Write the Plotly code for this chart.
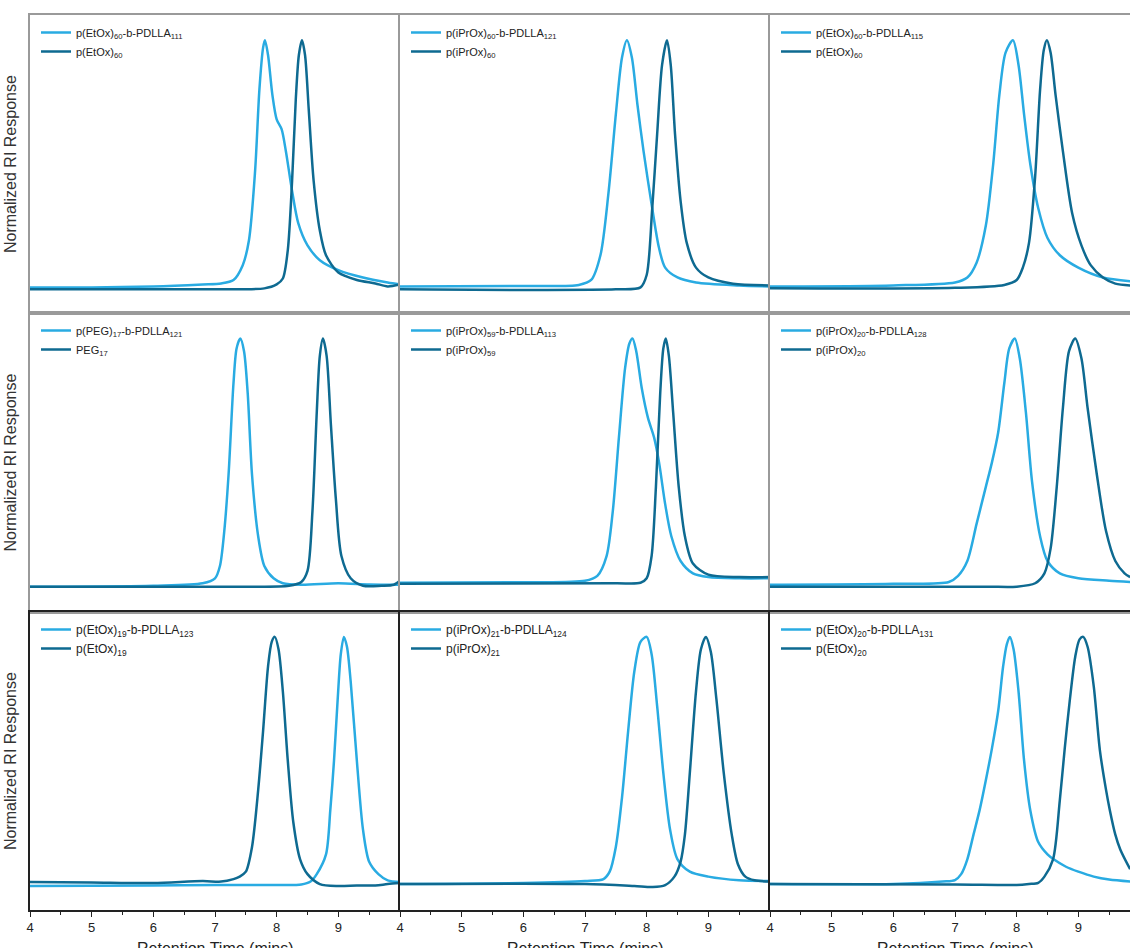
import plotly.graph_objects as go
from plotly.subplots import make_subplots

# ---------------- data (retention time in min, normalized RI response) -------------
# Row 1
x_11a = [4.0, 5.0, 6.0, 6.8, 7.1, 7.3, 7.45, 7.55, 7.65, 7.72, 7.78, 7.81, 7.86, 7.93, 8.0, 8.08, 8.15, 8.25, 8.35, 8.5, 8.7, 9.0, 9.4, 9.8, 10.0]
y_11a = [0.0, 0.0, 0.004, 0.012, 0.016, 0.03, 0.09, 0.19, 0.47, 0.80, 0.97, 1.0, 0.94, 0.78, 0.68, 0.64, 0.55, 0.39, 0.26, 0.17, 0.11, 0.07, 0.04, 0.02, 0.012]
x_11b = [4.0, 7.0, 7.8, 8.0, 8.1, 8.18, 8.25, 8.31, 8.36, 8.41, 8.46, 8.52, 8.6, 8.7, 8.8, 9.0, 9.3, 9.6, 9.8, 10.0]
y_11b = [-0.008, -0.008, -0.004, 0.012, 0.036, 0.15, 0.43, 0.76, 0.94, 1.0, 0.94, 0.72, 0.43, 0.23, 0.13, 0.06, 0.03, 0.016, 0.004, 0.012]

x_12a = [4.0, 6.0, 6.9, 7.1, 7.25, 7.38, 7.5, 7.6, 7.68, 7.76, 7.85, 7.95, 8.09, 8.2, 8.3, 8.5, 8.8, 9.5, 10.0]
y_12a = [0.004, 0.006, 0.01, 0.03, 0.13, 0.38, 0.7, 0.93, 1.0, 0.93, 0.74, 0.55, 0.32, 0.16, 0.08, 0.04, 0.02, 0.008, 0.004]
x_12b = [4.0, 7.5, 7.9, 8.0, 8.09, 8.17, 8.25, 8.33, 8.39, 8.46, 8.55, 8.65, 8.8, 9.0, 9.4, 10.0]
y_12b = [-0.008, -0.008, 0.0, 0.05, 0.32, 0.62, 0.9, 1.0, 0.9, 0.62, 0.35, 0.18, 0.08, 0.04, 0.015, 0.008]

x_13a = [4.0, 6.0, 7.0, 7.2, 7.35, 7.5, 7.62, 7.72, 7.82, 7.94, 8.03, 8.12, 8.22, 8.35, 8.5, 8.7, 9.0, 9.4, 9.84]
y_13a = [0.004, 0.008, 0.02, 0.04, 0.1, 0.25, 0.5, 0.78, 0.95, 1.0, 0.9, 0.7, 0.5, 0.32, 0.2, 0.13, 0.08, 0.04, 0.025]
x_13b = [4.0, 7.0, 7.8, 8.0, 8.1, 8.2, 8.3, 8.38, 8.44, 8.49, 8.55, 8.63, 8.75, 8.9, 9.05, 9.2, 9.4, 9.6, 9.84]
y_13b = [-0.004, -0.002, 0.01, 0.03, 0.08, 0.18, 0.45, 0.8, 0.96, 1.0, 0.95, 0.78, 0.55, 0.3, 0.17, 0.09, 0.04, 0.015, 0.008]

# Row 2
x_21a = [4.0, 6.0, 6.8, 7.0, 7.08, 7.15, 7.22, 7.3, 7.35, 7.41, 7.47, 7.53, 7.6, 7.7, 7.8, 7.95, 8.1, 8.4, 9.0, 9.5, 10.0]
y_21a = [-0.004, 0.0, 0.01, 0.03, 0.08, 0.22, 0.45, 0.82, 0.96, 1.0, 0.95, 0.78, 0.45, 0.2, 0.08, 0.03, 0.01, 0.004, 0.01, 0.005, 0.004]
x_21b = [4.0, 7.5, 8.2, 8.4, 8.5, 8.58, 8.65, 8.7, 8.75, 8.81, 8.88, 8.96, 9.05, 9.2, 9.4, 9.7, 9.9, 10.0]
y_21b = [-0.004, -0.004, 0.0, 0.015, 0.06, 0.3, 0.7, 0.93, 1.0, 0.93, 0.65, 0.35, 0.12, 0.03, 0.0, 0.0, 0.004, 0.02]

x_22a = [4.0, 6.0, 7.0, 7.2, 7.35, 7.45, 7.55, 7.65, 7.72, 7.77, 7.83, 7.92, 8.02, 8.12, 8.2, 8.3, 8.4, 8.55, 8.75, 9.0, 9.5, 10.0]
y_22a = [0.012, 0.014, 0.02, 0.04, 0.12, 0.3, 0.6, 0.88, 0.98, 1.0, 0.95, 0.8, 0.68, 0.6, 0.5, 0.33, 0.2, 0.1, 0.05, 0.035, 0.03, 0.03]
x_22b = [4.0, 7.5, 7.9, 8.0, 8.08, 8.15, 8.22, 8.27, 8.31, 8.36, 8.43, 8.52, 8.62, 8.75, 9.0, 9.5, 10.0]
y_22b = [0.008, 0.01, 0.012, 0.03, 0.12, 0.4, 0.78, 0.96, 1.0, 0.93, 0.7, 0.4, 0.2, 0.09, 0.045, 0.035, 0.035]

x_23a = [4.0, 6.0, 6.9, 7.05, 7.2, 7.35, 7.5, 7.6, 7.7, 7.8, 7.88, 7.97, 8.05, 8.15, 8.25, 8.38, 8.5, 8.7, 9.0, 9.5, 9.84]
y_23a = [0.004, 0.008, 0.015, 0.04, 0.1, 0.25, 0.4, 0.5, 0.62, 0.82, 0.96, 1.0, 0.92, 0.7, 0.42, 0.2, 0.1, 0.05, 0.03, 0.02, 0.015]
x_23b = [4.0, 7.5, 8.0, 8.3, 8.45, 8.55, 8.65, 8.75, 8.85, 8.95, 9.05, 9.15, 9.3, 9.45, 9.6, 9.75, 9.84]
y_23b = [-0.004, -0.004, -0.004, 0.01, 0.05, 0.15, 0.4, 0.72, 0.95, 1.0, 0.92, 0.72, 0.45, 0.22, 0.1, 0.05, 0.035]

# Row 3
x_31a = [4.0, 6.0, 7.0, 8.0, 8.4, 8.55, 8.65, 8.8, 8.87, 8.93, 8.99, 9.04, 9.09, 9.14, 9.2, 9.3, 9.4, 9.5, 9.65, 9.8, 10.0]
y_31a = [-0.008, -0.006, -0.004, -0.004, -0.002, 0.01, 0.04, 0.12, 0.3, 0.5, 0.75, 0.93, 1.0, 0.96, 0.82, 0.5, 0.22, 0.09, 0.04, 0.015, 0.008]
x_31b = [4.0, 5.0, 6.0, 6.8, 7.1, 7.3, 7.4, 7.5, 7.6, 7.7, 7.78, 7.86, 7.92, 7.97, 8.03, 8.1, 8.18, 8.27, 8.38, 8.5, 8.7, 9.0, 9.3, 9.6, 9.8, 10.0]
y_31b = [0.008, 0.006, 0.004, 0.012, 0.01, 0.02, 0.03, 0.05, 0.15, 0.38, 0.62, 0.88, 0.98, 1.0, 0.95, 0.78, 0.5, 0.25, 0.1, 0.04, 0.0, -0.008, -0.006, -0.006, 0.0, 0.004]

x_32a = [4.0, 6.0, 7.0, 7.3, 7.4, 7.5, 7.6, 7.7, 7.8, 7.9, 8.0, 8.08, 8.17, 8.27, 8.38, 8.5, 8.7, 9.0, 9.5, 10.0]
y_32a = [0.0, 0.004, 0.012, 0.02, 0.05, 0.15, 0.35, 0.62, 0.86, 0.98, 1.0, 0.93, 0.72, 0.45, 0.22, 0.1, 0.05, 0.03, 0.015, 0.012]
x_32b = [4.0, 7.0, 7.8, 8.1, 8.3, 8.45, 8.55, 8.62, 8.7, 8.8, 8.88, 8.96, 9.04, 9.13, 9.25, 9.38, 9.48, 9.6, 9.75, 10.0]
y_32b = [0.0, 0.0, -0.008, -0.012, -0.004, 0.03, 0.09, 0.2, 0.45, 0.78, 0.95, 1.0, 0.94, 0.75, 0.45, 0.2, 0.08, 0.03, 0.015, 0.01]

x_33a = [4.0, 6.0, 6.8, 7.0, 7.1, 7.2, 7.3, 7.4, 7.5, 7.6, 7.7, 7.78, 7.84, 7.89, 7.95, 8.03, 8.12, 8.22, 8.35, 8.5, 8.6, 8.8, 9.0, 9.25, 9.5, 9.84]
y_33a = [0.0, 0.0, 0.01, 0.016, 0.04, 0.1, 0.2, 0.3, 0.42, 0.55, 0.7, 0.88, 0.97, 1.0, 0.95, 0.78, 0.5, 0.3, 0.17, 0.12, 0.1, 0.07, 0.05, 0.03, 0.018, 0.01]
x_33b = [4.0, 7.0, 8.0, 8.2, 8.35, 8.45, 8.59, 8.7, 8.78, 8.86, 8.95, 9.02, 9.08, 9.15, 9.25, 9.35, 9.45, 9.51, 9.6, 9.68, 9.84]
y_33b = [0.0, -0.002, -0.004, 0.0, 0.005, 0.03, 0.1, 0.34, 0.55, 0.74, 0.92, 0.99, 1.0, 0.96, 0.8, 0.54, 0.38, 0.3, 0.2, 0.14, 0.06]

names_a = [
    "p(EtOx)<sub>60</sub>-b-PDLLA<sub>111</sub>",
    "p(iPrOx)<sub>60</sub>-b-PDLLA<sub>121</sub>",
    "p(EtOx)<sub>60</sub>-b-PDLLA<sub>115</sub>",
    "p(PEG)<sub>17</sub>-b-PDLLA<sub>121</sub>",
    "p(iPrOx)<sub>59</sub>-b-PDLLA<sub>113</sub>",
    "p(iPrOx)<sub>20</sub>-b-PDLLA<sub>128</sub>",
    "p(EtOx)<sub>19</sub>-b-PDLLA<sub>123</sub>",
    "p(iPrOx)<sub>21</sub>-b-PDLLA<sub>124</sub>",
    "p(EtOx)<sub>20</sub>-b-PDLLA<sub>131</sub>",
]
names_b = [
    "p(EtOx)<sub>60</sub>",
    "p(iPrOx)<sub>60</sub>",
    "p(EtOx)<sub>60</sub>",
    "PEG<sub>17</sub>",
    "p(iPrOx)<sub>59</sub>",
    "p(iPrOx)<sub>20</sub>",
    "p(EtOx)<sub>19</sub>",
    "p(iPrOx)<sub>21</sub>",
    "p(EtOx)<sub>20</sub>",
]
x_ticks = [4, 5, 6, 7, 8, 9]
x_title = "Retention Time (mins)"
y_title = "Normalized RI Response"

curves_a = [(x_11a, y_11a), (x_12a, y_12a), (x_13a, y_13a),
            (x_21a, y_21a), (x_22a, y_22a), (x_23a, y_23a),
            (x_31a, y_31a), (x_32a, y_32a), (x_33a, y_33a)]
curves_b = [(x_11b, y_11b), (x_12b, y_12b), (x_13b, y_13b),
            (x_21b, y_21b), (x_22b, y_22b), (x_23b, y_23b),
            (x_31b, y_31b), (x_32b, y_32b), (x_33b, y_33b)]

# ---------------- styling -------------
LIGHT = "#29ABE2"
DARK = "#0E6A91"
FONT = "Liberation Sans, Arial, sans-serif"
W, H = 1130, 948
ML, MR, MT, MB = 30, 0, 15, 38
PW, PH = W - ML - MR, H - MT - MB

col_left_px = [30, 400, 770]
row_top_px = [15, 313, 612]

fig = make_subplots(rows=3, cols=3, horizontal_spacing=0, vertical_spacing=0,
                    column_widths=[370, 370, 360])

for k in range(9):
    r, c = k // 3 + 1, k % 3 + 1
    leg = "legend" if k == 0 else f"legend{k+1}"
    xa, ya = curves_a[k]
    xb, yb = curves_b[k]
    fig.add_trace(go.Scatter(x=xa, y=ya, mode="lines", name=names_a[k], legend=leg,
                             line=dict(color=LIGHT, width=2.5, shape="spline", smoothing=0.8)),
                  row=r, col=c)
    fig.add_trace(go.Scatter(x=xb, y=yb, mode="lines", name=names_b[k], legend=leg,
                             line=dict(color=DARK, width=2.5, shape="spline", smoothing=0.8)),
                  row=r, col=c)

legends = {}
for k in range(9):
    r, c = k // 3, k % 3
    fs = 12 if r == 2 else 11
    lx = (col_left_px[c] - ML + 6) / PW
    ly = (H - MB - (row_top_px[r] + 3)) / PH
    key = "legend" if k == 0 else f"legend{k+1}"
    legends[key] = dict(x=lx, y=ly, xanchor="left", yanchor="top",
                        bgcolor="rgba(0,0,0,0)", borderwidth=0,
                        font=dict(family=FONT, size=fs, color="#222"),
                        itemwidth=30, tracegroupgap=0)
fig.update_layout(**legends)

for r in range(1, 4):
    line_col = "#222222" if r == 3 else "#9a9a9a"
    for c in range(1, 4):
        xr = [4, 10] if c < 3 else [4, 4 + 360 / 370 * 6]
        fig.update_xaxes(range=xr, row=r, col=c, showgrid=False, zeroline=False,
                         showline=True, mirror=True, linecolor=line_col, linewidth=1.5,
                         tickvals=x_ticks,
                         ticks="outside" if r == 3 else "",
                         ticklen=5, tickwidth=1, tickcolor="#222",
                         showticklabels=(r == 3),
                         tickfont=dict(family=FONT, size=13, color="#222"),
                         minor=dict(ticks="outside" if r == 3 else "", dtick=0.5,
                                    ticklen=3, tickcolor="#222", tickwidth=1, showgrid=False))
        fig.update_yaxes(range=[-0.105, 1.102], row=r, col=c, showgrid=False, zeroline=False,
                         showline=True, mirror=False, linecolor=line_col, linewidth=1.5,
                         showticklabels=False, ticks="")

annotations = []
for r in range(3):
    yc = (row_top_px[r] + [313, 612, 910][r]) / 2
    annotations.append(dict(text=y_title, textangle=-90, xref="paper", yref="paper",
                            x=(10 - ML) / PW, y=(H - MB - yc) / PH,
                            xanchor="center", yanchor="middle", showarrow=False,
                            font=dict(family=FONT, size=16, color="#333")))
for c in range(3):
    xc = col_left_px[c] + 185
    annotations.append(dict(text=x_title, xref="paper", yref="paper",
                            x=(xc - ML) / PW, y=(H - MB - 938) / PH,
                            xanchor="center", yanchor="top", showarrow=False,
                            font=dict(family=FONT, size=16, color="#222")))

fig.update_layout(width=W, height=H, margin=dict(l=ML, r=MR, t=MT, b=MB, autoexpand=False),
                  paper_bgcolor="white", plot_bgcolor="white",
                  font=dict(family=FONT, color="#222"),
                  annotations=annotations, showlegend=True)

fig.write_html("out.html")
